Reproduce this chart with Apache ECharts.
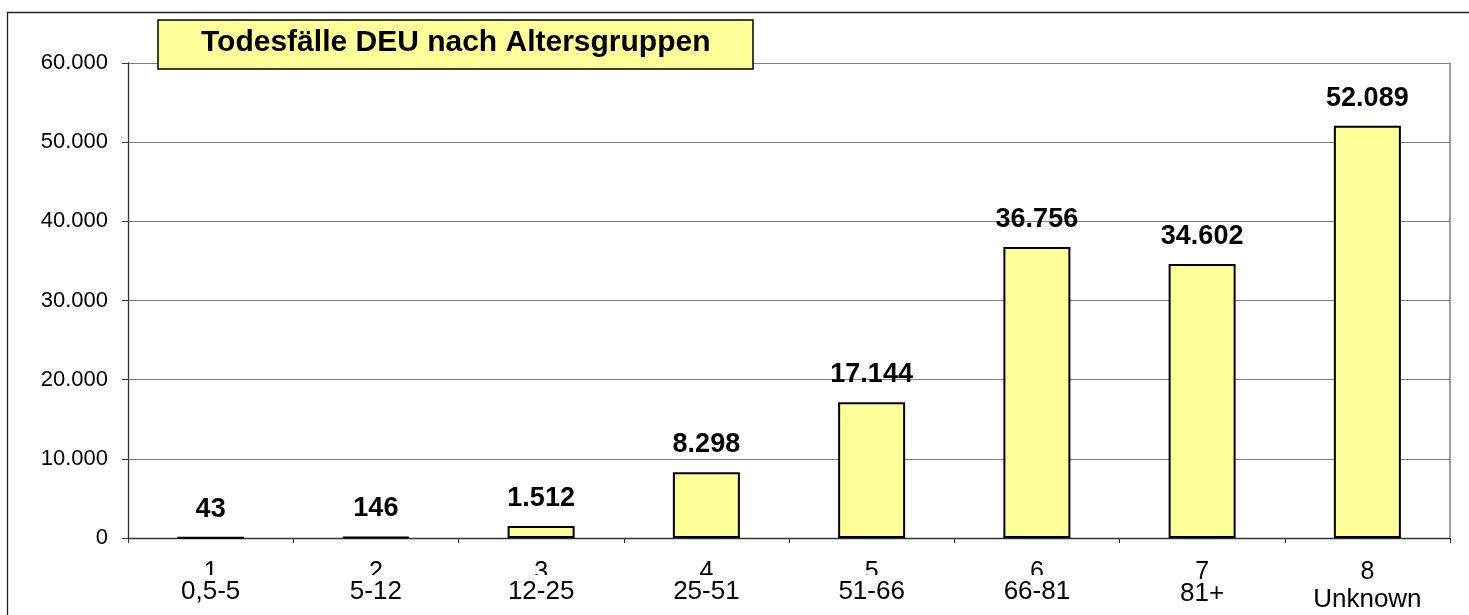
<!DOCTYPE html>
<html>
<head>
<meta charset="utf-8">
<style>
  html, body { margin: 0; padding: 0; background: #fff; }
  #chart { width: 1469px; height: 615px; }
</style>
<script src="https://cdn.jsdelivr.net/npm/echarts@6/dist/echarts.min.js"></script>
</head>
<body>
<div id="chart"></div>
<script>
// Deaths in Germany by age group
const groupNumbers = ['1', '2', '3', '4', '5', '6', '7', '8'];
const ageGroups = ['0,5-5', '5-12', '12-25', '25-51', '51-66', '66-81', '81+', 'Unknown'];
const deaths = [43, 146, 1512, 8298, 17144, 36756, 34602, 52089];
const yTicks = [0, 10000, 20000, 30000, 40000, 50000, 60000];

const FONT = "'Liberation Sans', Arial, sans-serif";
const YELLOW = '#FFFF99';

// German thousands separator: 52089 -> "52.089"
function fmt(v) {
  return String(Math.round(v)).replace(/\B(?=(\d{3})+(?!\d))/g, '.');
}

// Two-line category label: group number over the age range.
// The first six ranges sit on a white strip that hides the lower half of the number.
function categoryLabel(value, index) {
  if (index === ageGroups.length - 1) {
    return '{n|' + value + '}\n{low|' + ageGroups[index] + '}';
  }
  if (index === ageGroups.length - 2) {
    return '{n|' + value + '}\n{plain|' + ageGroups[index] + '}';
  }
  return '{n|' + value + '}\n{cover|' + ageGroups[index] + '}';
}

const chart = echarts.init(document.getElementById('chart'), null, { renderer: 'canvas' });

chart.setOption({
  animation: false,
  backgroundColor: '#ffffff',
  title: {
    text: 'Todesfälle DEU nach Altersgruppen',
    left: 158,
    top: 20,
    padding: [8, 43, 11, 43],
    backgroundColor: YELLOW,
    borderColor: '#000',
    borderWidth: 1.5,
    textStyle: {
      fontFamily: FONT,
      fontSize: 30,
      fontWeight: 'bold',
      color: '#000',
      lineHeight: 30
    },
    z: 10
  },
  graphic: [{
    type: 'rect',
    shape: { x: 7.5, y: 12.5, width: 1600, height: 800 },
    style: { fill: null, stroke: '#222', lineWidth: 1.3 },
    silent: true,
    z: -1
  }],
  grid: {
    left: 128,
    right: 19,
    top: 63,
    bottom: 77,
    containLabel: false
  },
  xAxis: {
    type: 'category',
    data: groupNumbers,
    boundaryGap: true,
    axisLine: { show: true, lineStyle: { color: '#333', width: 1.3 } },
    axisTick: { show: true, length: 5, inside: false, alignWithLabel: false, lineStyle: { color: '#333', width: 1 } },
    axisLabel: {
      interval: 0,
      margin: 34,
      color: '#000',
      fontFamily: FONT,
      fontSize: 26,
      formatter: categoryLabel,
      rich: {
        n: { fontFamily: FONT, fontSize: 25, color: '#000', lineHeight: 0 },
        cover: { fontFamily: FONT, fontSize: 26, color: '#000', lineHeight: 40, height: 34, backgroundColor: '#ffffff' },
        plain: { fontFamily: FONT, fontSize: 26, color: '#000', lineHeight: 44 },
        low: { fontFamily: FONT, fontSize: 26, color: '#000', lineHeight: 56 }
      }
    },
    splitLine: { show: false }
  },
  yAxis: [{
    type: 'value',
    min: yTicks[0],
    max: yTicks[yTicks.length - 1],
    interval: yTicks[1] - yTicks[0],
    axisLine: { show: true, lineStyle: { color: '#333', width: 1.3 } },
    axisTick: { show: true, length: 6, inside: false, lineStyle: { color: '#333', width: 1 } },
    axisLabel: {
      margin: 20,
      color: '#000',
      fontFamily: FONT,
      fontSize: 22,
      formatter: fmt
    },
    splitLine: { show: true, lineStyle: { color: '#808080', width: 1.2 } }
  }, {
    type: 'value',
    position: 'right',
    min: yTicks[0],
    max: yTicks[yTicks.length - 1],
    interval: yTicks[1] - yTicks[0],
    axisLine: { show: true, lineStyle: { color: '#808080', width: 1.5 } },
    axisTick: { show: false },
    axisLabel: { show: false },
    splitLine: { show: false }
  }],
  series: [{
    type: 'bar',
    data: deaths,
    barWidth: 67,
    itemStyle: {
      color: YELLOW,
      borderColor: '#000',
      borderWidth: 2
    },
    label: {
      show: true,
      position: 'top',
      distance: 14,
      color: '#000',
      fontFamily: FONT,
      fontSize: 27,
      fontWeight: 'bold',
      formatter: function (p) { return fmt(p.value); }
    }
  }]
});
</script>
</body>
</html>
